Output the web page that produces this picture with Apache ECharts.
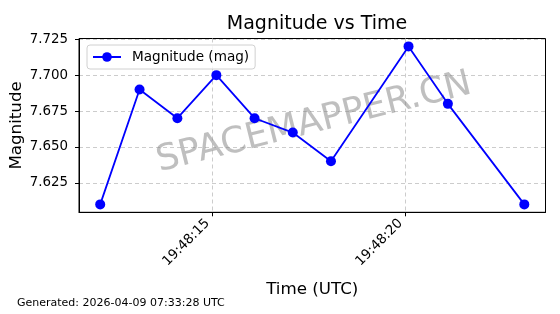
<!DOCTYPE html>
<html><head><meta charset="utf-8">
<script src="https://cdn.jsdelivr.net/npm/echarts@6/dist/echarts.min.js"></script>
<style>html,body{margin:0;padding:0;background:#fff}#c{width:560px;height:314px}</style>
</head><body><div id="c"></div>
<script>
// Data
const times = ["19:48:12.09","19:48:13.11","19:48:14.09","19:48:15.10","19:48:16.09","19:48:17.08","19:48:18.07","19:48:20.08","19:48:21.10","19:48:23.08"];
const magnitudes = [7.61, 7.69, 7.67, 7.70, 7.67, 7.66, 7.64, 7.72, 7.68, 7.61];
const xTickLabels = ["19:48:15", "19:48:20"];
const yTickLabels = ["7.625", "7.650", "7.675", "7.700", "7.725"];

const toSec = s => { const p = s.split(':').map(Number); return p[0]*3600 + p[1]*60 + p[2]; };
const fmt = v => { const h = Math.floor(v/3600), m = Math.floor((v%3600)/60), s = Math.round(v%60);
  return [h,m,s].map(n => String(n).padStart(2,'0')).join(':'); };
const xs = times.map(toSec);
const xTicks = xTickLabels.map(toSec);
const yTicks = yTickLabels.map(Number);
const xmin = Math.min(...xs), xmax = Math.max(...xs), xm = (xmax - xmin) * 0.05;
const ymin = Math.min(...magnitudes), ymax = Math.max(...magnitudes), ym = (ymax - ymin) * 0.05;

const FONT = 'DejaVu Sans';
const chart = echarts.init(document.getElementById('c'), null, {renderer: 'canvas'});
chart.setOption({
  animation: false,
  textStyle: {fontFamily: FONT},
  title: {text: 'Magnitude vs Time', left: 312, top: 10, textAlign: 'center',
    textStyle: {fontFamily: FONT, fontSize: 19, fontWeight: 'normal', color: '#000'}},
  grid: {left: 79, right: 14.5, top: 38.5, bottom: 101.7, containLabel: false, outerBoundsMode: 'none',
    show: true, borderColor: '#000', borderWidth: 1, backgroundColor: 'transparent'},
  legend: {left: 87, top: 45, orient: 'vertical', itemWidth: 28, itemHeight: 12, padding: [5, 6, 5, 5],
    borderColor: '#d0d0d0', borderWidth: 1, borderRadius: 3, backgroundColor: 'rgba(255,255,255,0.8)',
    textStyle: {fontFamily: FONT, fontSize: 13.6, color: '#000', padding: [0, 0, 0, 6]}},
  xAxis: {type: 'value', min: xmin - xm, max: xmax + xm,
    name: 'Time (UTC)', nameLocation: 'middle', nameGap: 69, nameMoveOverlap: false,
    nameTextStyle: {fontFamily: FONT, fontSize: 16.7, color: '#000'},
    axisLine: {show: true, onZero: false, lineStyle: {color: '#000', width: 1}},
    axisTick: {show: true, inside: false, length: 4, customValues: xTicks, lineStyle: {color: '#000'}},
    axisLabel: {customValues: xTicks, rotate: 45, formatter: v => fmt(v), fontFamily: FONT, fontSize: 13.4, color: '#000',
      margin: 4, padding: [0, 7, 0, 0]},
    splitLine: {show: true, lineStyle: {color: '#cccccc', type: [4, 3], width: 1}}},
  yAxis: {type: 'value', min: ymin - ym, max: ymax + ym,
    name: 'Magnitude', nameLocation: 'middle', nameGap: 54, nameMoveOverlap: false,
    nameTextStyle: {fontFamily: FONT, fontSize: 16.7, color: '#000'},
    axisLine: {show: true, onZero: false, lineStyle: {color: '#000', width: 1}},
    axisTick: {show: true, inside: false, length: 4, customValues: yTicks, lineStyle: {color: '#000'}},
    axisLabel: {customValues: yTicks, formatter: v => v.toFixed(3), fontFamily: FONT, fontSize: 13.4, color: '#000', margin: 11},
    splitLine: {show: true, lineStyle: {color: '#cccccc', type: [4, 3], width: 1}}},
  graphic: [
    {type: 'text', left: 17, top: 298, style: {text: 'Generated: 2026-04-09 07:33:28 UTC', font: '11px "DejaVu Sans"', fill: '#000'}},
    {type: 'text', x: 314, y: 123, rotation: 14 * Math.PI / 180, z: 1,
      style: {text: 'SPACEMAPPER.CN', font: '36px "DejaVu Sans"', fill: 'rgba(128,128,128,0.5)', align: 'center', verticalAlign: 'middle'}}
  ],
  series: [{name: 'Magnitude (mag)', type: 'line', z: 3, data: xs.map((x, i) => [x, magnitudes[i]]),
    symbol: 'circle', symbolSize: 10, showSymbol: true,
    lineStyle: {color: '#0000ff', width: 1.8}, itemStyle: {color: '#0000ff'}}]
});
</script></body></html>
